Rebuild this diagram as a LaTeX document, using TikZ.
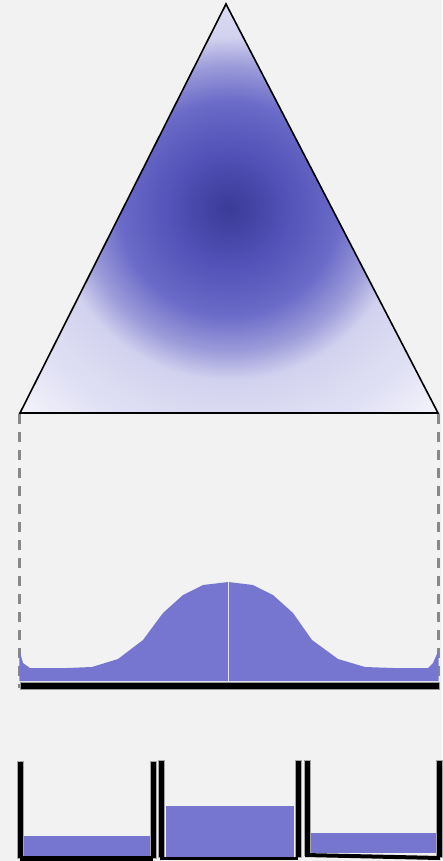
\documentclass[tikz,border=0pt]{standalone}
\usetikzlibrary{calc}
\definecolor{bgc}{HTML}{F2F2F2}
\definecolor{blob}{HTML}{7676D0}
\definecolor{gdark}{HTML}{3A3A98}
\definecolor{gmid1}{HTML}{5252B8}
\definecolor{gmid2}{HTML}{6A6AC8}
\definecolor{gmid3}{HTML}{9C9CDA}
\definecolor{gpale1}{HTML}{D2D2EF}
\definecolor{gpale2}{HTML}{E2E2F5}
\definecolor{gpale3}{HTML}{F6F6FC}
\definecolor{dashgrey}{HTML}{888888}
\pgfdeclareradialshading{blobshade}{\pgfpoint{0bp}{0bp}}{%
  color(0bp)=(gdark);
  color(7bp)=(gmid1);
  color(13bp)=(gmid2);
  color(17.5bp)=(gmid3);
  color(21bp)=(gpale1);
  color(29bp)=(gpale2);
  color(36bp)=(gpale3);
  color(50bp)=(gpale3)}
\tikzset{
  guide/.style={dashgrey, line width=2.5pt, dash pattern=on 10pt off 8pt},
  wall/.style={fill=black, draw=gray!70, line width=0.6pt},
  liquid/.style={fill=blob},
}
\begin{document}
\begin{tikzpicture}[x=1pt,y=-1pt]
\fill[bgc] (0,0) rectangle (442,861);
\useasboundingbox (0,0) rectangle (442,861);
% triangle
\coordinate (T) at (226,4);
\coordinate (BL) at (20,413);
\coordinate (BR) at (438,413);
\shade[shading=blobshade] (T) -- (BL) -- (BR) -- cycle;
\draw[line width=1.6pt, line join=miter] (T) -- (BL) -- (BR) -- cycle;
% guides
\coordinate (GL) at (19.5,688);
\coordinate (GR) at (438.5,688);
\draw[guide] (19.5,414) -- (GL);
\draw[guide] (438.5,414) -- (GR);
% profile
\fill[blob] (19.3,681) -- (19.3,650) -- (23,663) -- (30,668) -- (67,668) -- (92,667) -- (118,659) -- (143,640) -- (163,613) -- (183,595) -- (203,585) -- (228.5,582) -- (253,585) -- (273,595) -- (293,613) -- (312,640) -- (338,659) -- (365,667) -- (393,668) -- (428,668) -- (433,663) -- (438.7,650) -- (438.7,681) -- cycle;
\draw[white!80!blob, line width=1pt] (228.5,582) -- (228.5,680.5);
\fill[black, draw=gray!80, line width=1pt] (20,682) rectangle (439.5,689.5);
% cup 1
\fill[liquid] (22,836) rectangle (150,856);
\draw[wall] (17,761) rectangle (23,858);
\draw[wall] (150,761) rectangle (156,858);
\fill[black] (20,856) rectangle (153,861);
% cup 2
\fill[liquid] (166,806) rectangle (294,857);
\draw[wall] (158,760) rectangle (164,857);
\draw[wall] (295,760) rectangle (301,857);
\fill[black] (160,856.5) rectangle (298,860);
% cup 3
\fill[liquid] (310,833) rectangle (438,853);
\draw[wall] (304,760) rectangle (310,855);
\draw[wall] (436,760) rectangle (442,857);
\fill[black] (305,853) -- (440,856) -- (440,860) -- (305,857) -- cycle;
\end{tikzpicture}
\end{document}
